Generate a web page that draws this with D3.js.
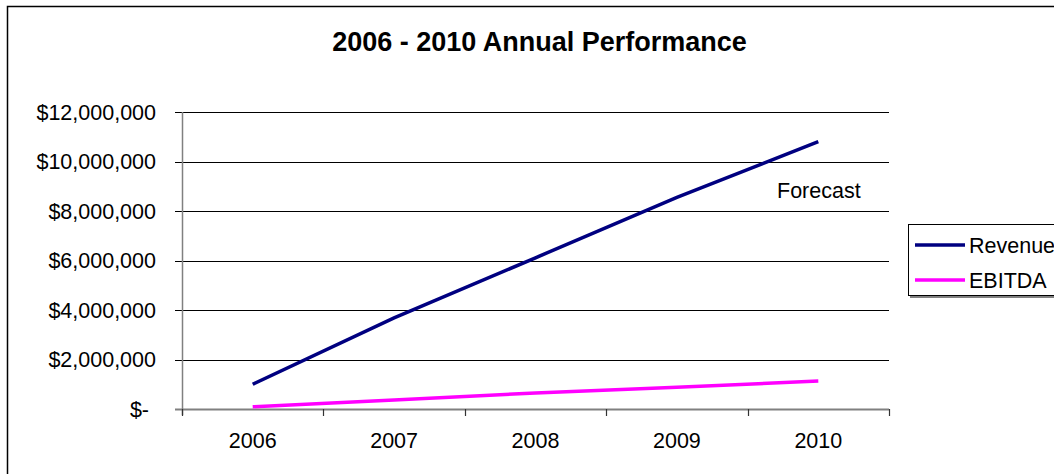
<!DOCTYPE html>
<html>
<head>
<meta charset="utf-8">
<script src="https://cdn.jsdelivr.net/npm/d3@7"></script>
<style>
  body { margin: 0; background: #fff; }
  text { font-family: "Liberation Sans", Arial, sans-serif; fill: #000; }
</style>
</head>
<body>
<script>
// data
var years = ["2006", "2007", "2008", "2009", "2010"];
var revenue = [1000000, 3680000, 6110000, 8550000, 10800000];
var ebitda = [90000, 360000, 650000, 880000, 1130000];
var yTicks = [0, 2000000, 4000000, 6000000, 8000000, 10000000, 12000000];
var seriesNames = ["Revenue", "EBITDA"];
var seriesColors = ["#000080", "#ff00ff"];

var W = 1054, H = 474;
var plot = { left: 182, right: 889, top: 112, bottom: 409 };

var svg = d3.select("body").append("svg")
    .attr("width", W)
    .attr("height", H);

// outer chart border
svg.append("rect")
    .attr("x", 7.5).attr("y", 6.5)
    .attr("width", 1060).attr("height", 480)
    .attr("fill", "#fff")
    .attr("stroke", "#000")
    .attr("stroke-width", 1.5);

svg.append("text")
    .attr("x", 539.5).attr("y", 51)
    .attr("text-anchor", "middle")
    .style("font-size", "27px")
    .style("font-weight", "bold")
    .text("2006 - 2010 Annual Performance");

var x = d3.scaleBand().domain(years).range([plot.left, plot.right]);
var y = d3.scaleLinear().domain([0, 12000000]).range([plot.bottom, plot.top]);

// gridlines (extend left as tick marks)
svg.selectAll(".grid")
    .data(yTicks.filter(d => d > 0))
    .enter().append("line")
    .attr("class", "grid")
    .attr("x1", plot.left - 7).attr("x2", plot.right)
    .attr("y1", d => Math.round(y(d)) + 0.5).attr("y2", d => Math.round(y(d)) + 0.5)
    .attr("stroke", "#000")
    .attr("stroke-width", 1.2);

// y axis line
svg.append("line")
    .attr("x1", plot.left + 0.5).attr("x2", plot.left + 0.5)
    .attr("y1", plot.top).attr("y2", plot.bottom + 6)
    .attr("stroke", "#808080")
    .attr("stroke-width", 1.5);

// x axis line
svg.append("line")
    .attr("x1", plot.left - 7).attr("x2", plot.right)
    .attr("y1", plot.bottom + 0.5).attr("y2", plot.bottom + 0.5)
    .attr("stroke", "#808080")
    .attr("stroke-width", 2);

// x ticks at category boundaries
var bounds = years.map(d => x(d)).concat([plot.right]);
svg.selectAll(".xtick")
    .data(bounds)
    .enter().append("line")
    .attr("x1", d => Math.round(d) + 0.5).attr("x2", d => Math.round(d) + 0.5)
    .attr("y1", plot.bottom).attr("y2", plot.bottom + 7)
    .attr("stroke", "#333")
    .attr("stroke-width", 1.2);

// y labels
var fmt = d3.format(",");
svg.selectAll(".ylab")
    .data(yTicks)
    .enter().append("text")
    .attr("x", d => d === 0 ? 149 : 156)
    .attr("y", d => y(d))
    .attr("dy", "0.36em")
    .attr("text-anchor", "end")
    .style("font-size", "21.5px")
    .text(d => d === 0 ? "$-" : "$" + fmt(d));

// x labels
svg.selectAll(".xlab")
    .data(years)
    .enter().append("text")
    .attr("x", d => x(d) + x.bandwidth() / 2)
    .attr("y", 448)
    .attr("text-anchor", "middle")
    .style("font-size", "21.5px")
    .text(d => d);

// lines
var line = d3.line()
    .x((d, i) => x(years[i]) + x.bandwidth() / 2)
    .y(d => y(d));

[revenue, ebitda].forEach(function (s, i) {
    svg.append("path")
        .datum(s)
        .attr("d", line)
        .attr("fill", "none")
        .attr("stroke", seriesColors[i])
        .attr("stroke-width", 3.5);
});

svg.append("text")
    .attr("x", 777).attr("y", 198)
    .style("font-size", "21.5px")
    .text("Forecast");

// legend
var lg = svg.append("g");
lg.append("rect")
    .attr("x", 910).attr("y", 226)
    .attr("width", 160).attr("height", 72)
    .attr("fill", "#808080");
lg.append("rect")
    .attr("x", 908.5).attr("y", 224.5)
    .attr("width", 160).attr("height", 71)
    .attr("fill", "#fff")
    .attr("stroke", "#000")
    .attr("stroke-width", 1);

seriesNames.forEach(function (n, i) {
    var ly = 245 + i * 35;
    lg.append("line")
        .attr("x1", 915).attr("x2", 965)
        .attr("y1", ly).attr("y2", ly)
        .attr("stroke", seriesColors[i])
        .attr("stroke-width", 3.5);
    lg.append("text")
        .attr("x", 969).attr("y", ly)
        .attr("dy", "0.36em")
        .style("font-size", "21.5px")
        .text(n);
});
</script>
</body>
</html>
